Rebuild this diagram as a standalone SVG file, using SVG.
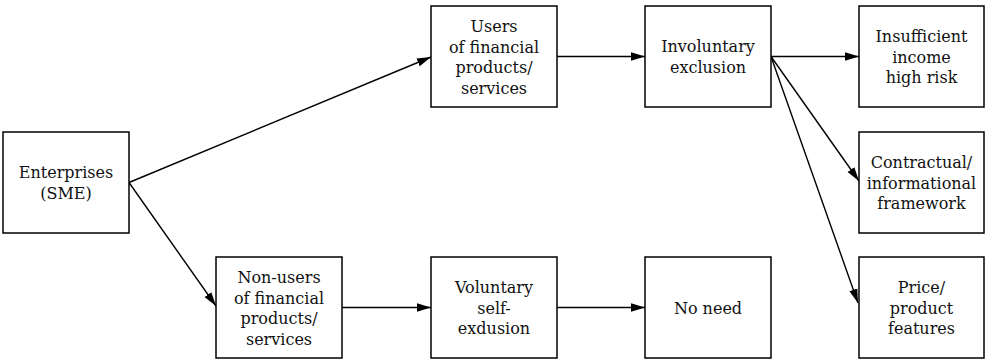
<svg xmlns="http://www.w3.org/2000/svg" width="987" height="359" viewBox="0 0 987 359">
<style>
.box{fill:#fff;stroke:#000;stroke-width:1.5}
.t{font-family:'DejaVu Serif','Liberation Serif',serif;font-size:16px;fill:#111;text-anchor:middle}
.c{stroke:#000;stroke-width:1.4;fill:none;marker-end:url(#ah)}
</style>
<defs>
<marker id="ah" markerUnits="userSpaceOnUse" markerWidth="14" markerHeight="10" refX="14" refY="5" orient="auto">
<path d="M0,0.8 L14,5 L0,9.2 Z" fill="#000"/>
</marker>
</defs>
<rect width="987" height="359" fill="#fff"/>
<g id="connectors">
<line class="c" x1="129" y1="182.5" x2="431" y2="57"/>
<line class="c" x1="129" y1="182.5" x2="216" y2="306"/>
<line class="c" x1="557" y1="56.5" x2="645" y2="56.5"/>
<line class="c" x1="342" y1="307.5" x2="431" y2="307.5"/>
<line class="c" x1="557" y1="307.5" x2="645" y2="307.5"/>
<line class="c" x1="771" y1="56.5" x2="859" y2="56.5"/>
<line class="c" x1="771" y1="56.5" x2="859" y2="181"/>
<line class="c" x1="771" y1="56.5" x2="858" y2="303"/>
</g>
<g id="enterprises">
<rect class="box" x="3" y="132" width="126" height="101"/>
<text class="t" x="66" y="178">Enterprises</text>
<text class="t" x="66" y="199">(SME)</text>
</g>
<g id="users">
<rect class="box" x="431" y="6" width="126" height="101"/>
<text class="t" x="494" y="32">Users</text>
<text class="t" x="494" y="52.5">of financial</text>
<text class="t" x="494" y="73">products/</text>
<text class="t" x="494" y="93.5">services</text>
</g>
<g id="involuntary">
<rect class="box" x="645" y="6" width="126" height="101"/>
<text class="t" x="708" y="52">Involuntary</text>
<text class="t" x="708" y="73">exclusion</text>
</g>
<g id="insufficient">
<rect class="box" x="859" y="6" width="125" height="101"/>
<text class="t" x="921.5" y="42">Insufficient</text>
<text class="t" x="921.5" y="62.5">income</text>
<text class="t" x="921.5" y="83">high risk</text>
</g>
<g id="contractual">
<rect class="box" x="859" y="132" width="125" height="101"/>
<text class="t" x="921.5" y="168">Contractual/</text>
<text class="t" x="921.5" y="188.5">informational</text>
<text class="t" x="921.5" y="209">framework</text>
</g>
<g id="price">
<rect class="box" x="859" y="257" width="125" height="101"/>
<text class="t" x="921.5" y="293">Price/</text>
<text class="t" x="921.5" y="313.5">product</text>
<text class="t" x="921.5" y="334">features</text>
</g>
<g id="nonusers">
<rect class="box" x="216" y="257" width="126" height="101"/>
<text class="t" x="279" y="283">Non-users</text>
<text class="t" x="279" y="303.5">of financial</text>
<text class="t" x="279" y="324">products/</text>
<text class="t" x="279" y="344.5">services</text>
</g>
<g id="voluntary">
<rect class="box" x="431" y="257" width="126" height="101"/>
<text class="t" x="494" y="293">Voluntary</text>
<text class="t" x="494" y="313.5">self-</text>
<text class="t" x="494" y="334">exdusion</text>
</g>
<g id="noneed">
<rect class="box" x="645" y="257" width="126" height="101"/>
<text class="t" x="708" y="313.5">No need</text>
</g>
</svg>
